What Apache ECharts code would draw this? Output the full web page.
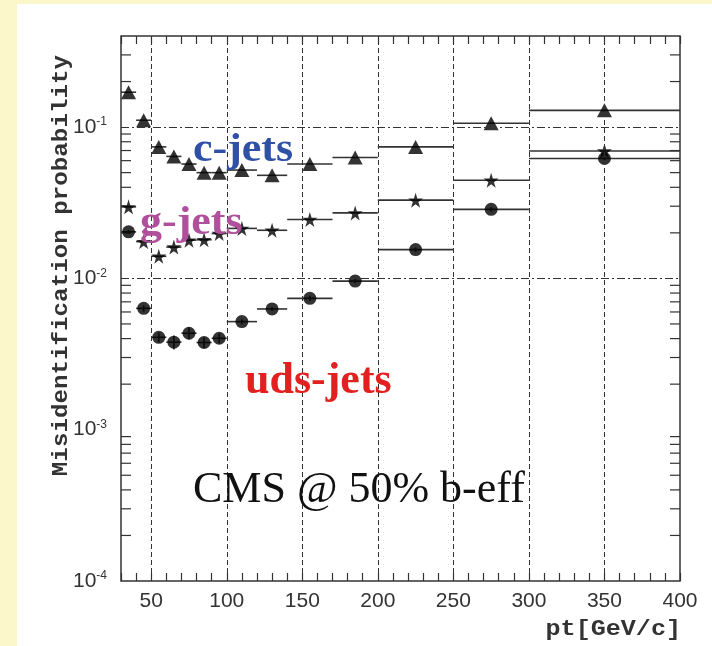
<!DOCTYPE html>
<html>
<head>
<meta charset="utf-8">
<script src="https://cdn.jsdelivr.net/npm/echarts@6/dist/echarts.min.js"></script>
<style>
  html, body { margin: 0; padding: 0; background: #fff; }
  #chart { width: 712px; height: 646px; }
</style>
</head>
<body>
<div id="chart"></div>
<script>
// pt bins (GeV/c)
const ptCenter = [35, 45, 55, 65, 75, 85, 95, 110, 130, 155, 185, 225, 275, 350];
const ptLow    = [30, 40, 50, 60, 70, 80, 90, 100, 120, 140, 170, 200, 250, 300];
const ptHigh   = [40, 50, 60, 70, 80, 90, 100, 120, 140, 170, 200, 250, 300, 400];

// misidentification probability
const cJets   = [0.170, 0.111, 0.074, 0.064, 0.057, 0.050, 0.050, 0.052, 0.048, 0.057, 0.063, 0.074, 0.106, 0.129];
const gJets   = [0.0297, 0.0175, 0.0140, 0.0161, 0.0179, 0.0180, 0.0198, 0.0214, 0.0208, 0.0245, 0.0271, 0.0329, 0.0445, 0.0695];
const udsJets = [0.0203, 0.00634, 0.00408, 0.00379, 0.00434, 0.00377, 0.00402, 0.00518, 0.00628, 0.00738, 0.0096, 0.0155, 0.0286, 0.0620];
const udsErr  = [0.0006, 0.0003, 0.0003, 0.0004, 0.0004, 0.0003, 0.0003, 0.0002, 0.0002, 0.0003, 0.0003, 0.0005, 0.0010, 0.0020];

// axis furniture
const xGridLines = [50, 100, 150, 200, 250, 300, 350];
const yGridLines = [0.1, 0.01, 0.001];
const yDecades = [0.0001, 0.001, 0.01, 0.1];
const yMinorMult = [2, 3, 4, 5, 6, 7, 8, 9];

const X_MIN = 30, X_MAX = 400, Y_MIN = 0.0001, Y_MAX = 0.4;
const INK = '#333';

const yMinorTicks = [];
yDecades.forEach((d) => {
  yMinorMult.forEach((m) => {
    if (d * m < Y_MAX) yMinorTicks.push(d * m);
  });
});

const starPath = 'path://M50,0 L61,35 L98,35 L68,57 L79,91 L50,70 L21,91 L32,57 L2,35 L39,35 Z';

function rows(values, err) {
  return ptCenter.map((x, i) => {
    const e = err ? err[i] : 0;
    return [x, values[i], ptLow[i], ptHigh[i], values[i] - e, values[i] + e];
  });
}

function renderBars(params, api) {
  const y = api.value(1);
  const p0 = api.coord([api.value(2), y]);
  const p1 = api.coord([api.value(3), y]);
  const style = { stroke: INK, lineWidth: 1.6 };
  const children = [
    { type: 'line', shape: { x1: p0[0], y1: p0[1], x2: p1[0], y2: p1[1] }, style },
  ];
  if (api.value(5) > api.value(4)) {
    const q0 = api.coord([api.value(0), api.value(4)]);
    const q1 = api.coord([api.value(0), api.value(5)]);
    children.push({ type: 'line', shape: { x1: q0[0], y1: q0[1], x2: q1[0], y2: q1[1] }, style });
  }
  return { type: 'group', children };
}

function renderYTicks(params, api) {
  const v = api.value(1);
  const l = api.coord([X_MIN, v]);
  const r = api.coord([X_MAX, v]);
  const style = { stroke: INK, lineWidth: 1.2 };
  return {
    type: 'group',
    children: [
      { type: 'line', shape: { x1: l[0], y1: l[1], x2: l[0] + 10, y2: l[1] }, style },
      { type: 'line', shape: { x1: r[0] - 10, y1: r[1], x2: r[0], y2: r[1] }, style },
    ],
  };
}

const chart = echarts.init(document.getElementById('chart'));

const xAxisBase = {
  type: 'value',
  min: X_MIN,
  max: X_MAX,
  interval: 10,
  axisLine: { show: false },
  axisTick: { show: true, inside: true, length: 8, lineStyle: { color: INK, width: 1.2 } },
  splitLine: { show: false },
};

const option = {
  backgroundColor: '#ffffff',
  animation: false,
  grid: {
    left: 121,
    right: 32,
    top: 36,
    bottom: 65,
    show: true,
    backgroundColor: '#ffffff',
    borderColor: INK,
    borderWidth: 1.5,
  },
  xAxis: [
    Object.assign({}, xAxisBase, {
      position: 'bottom',
      axisLabel: {
        margin: 10,
        color: INK,
        fontSize: 21,
        fontFamily: 'Liberation Sans',
        formatter: (v) => (v % 50 === 0 ? String(v) : ''),
      },
    }),
    Object.assign({}, xAxisBase, {
      position: 'top',
      axisLabel: { show: false },
    }),
  ],
  yAxis: {
    type: 'log',
    logBase: 10,
    min: Y_MIN,
    max: Y_MAX,
    axisLine: { show: false },
    axisTick: { show: false },
    splitLine: { show: false },
    axisLabel: {
      margin: 14,
      showMaxLabel: false,
      showMinLabel: true,
      formatter: (v) => {
        const e = Math.log10(v);
        const r = Math.round(e);
        if (Math.abs(e - r) > 1e-6) return '';
        return '{b|10}{s|' + r + '}';
      },
      rich: {
        b: { fontSize: 21, lineHeight: 22, color: INK, fontFamily: 'Liberation Sans' },
        s: { fontSize: 12, lineHeight: 12, verticalAlign: 'top', color: INK, fontFamily: 'Liberation Sans' },
      },
    },
  },
  graphic: [
    { type: 'rect', z: -1, silent: true, shape: { x: 0, y: 0, width: 17, height: 646 }, style: { fill: '#fcf6cb' } },
    { type: 'rect', z: -1, silent: true, shape: { x: 0, y: 0, width: 712, height: 4 }, style: { fill: '#fcf6cb' } },
    {
      type: 'text', x: 61, y: 55, rotation: Math.PI / 2, scaleX: 1.1, z: 100,
      style: { text: 'Misidentification probability', font: 'bold 22px "Liberation Mono"', fill: INK, align: 'right', verticalAlign: 'middle' },
    },
    {
      type: 'text', x: 681, y: 629, scaleX: 1.14, z: 100,
      style: { text: 'pt[GeV/c]', font: 'bold 22px "Liberation Mono"', fill: INK, align: 'right', verticalAlign: 'middle' },
    },
    {
      type: 'text', x: 193, y: 151, scaleX: 1.1, z: 100,
      style: { text: 'c-jets', font: 'bold 40px "Liberation Serif"', fill: '#3050a6', align: 'left', verticalAlign: 'middle' },
    },
    {
      type: 'text', x: 140, y: 224, scaleX: 1.1, z: 100,
      style: { text: 'g-jets', font: 'bold 40px "Liberation Serif"', fill: '#b0509c', align: 'left', verticalAlign: 'middle' },
    },
    {
      type: 'text', x: 245, y: 382, z: 100,
      style: { text: 'uds-jets', font: 'bold 44px "Liberation Serif"', fill: '#e0211f', align: 'left', verticalAlign: 'middle' },
    },
    {
      type: 'text', x: 193, y: 490, z: 100,
      style: { text: 'CMS @ 50% b-eff', font: '44px "Liberation Serif"', fill: '#111', align: 'left', verticalAlign: 'middle' },
    },
  ],
  series: [
    {
      name: 'ticks',
      type: 'custom',
      z: 1,
      silent: true,
      data: yMinorTicks.map((v) => [X_MIN, v]),
      renderItem: renderYTicks,
      markLine: {
        silent: true,
        symbol: ['none', 'none'],
        label: { show: false },
        animation: false,
        data: [
          ...xGridLines.map((v) => ({ xAxis: v, lineStyle: { color: INK, width: 1, type: [5, 3] } })),
          ...yGridLines.map((v) => ({ yAxis: v, lineStyle: { color: INK, width: 1, type: [8, 3, 2, 3] } })),
        ],
      },
    },
    { name: 'c-jets bins', type: 'custom', z: 3, data: rows(cJets), encode: { x: 0, y: 1 }, renderItem: renderBars },
    { name: 'g-jets bins', type: 'custom', z: 3, data: rows(gJets), encode: { x: 0, y: 1 }, renderItem: renderBars },
    { name: 'uds-jets bins', type: 'custom', z: 3, data: rows(udsJets, udsErr), encode: { x: 0, y: 1 }, renderItem: renderBars },
    {
      name: 'c-jets', type: 'scatter', z: 4, symbol: 'triangle', symbolSize: [15, 14],
      itemStyle: { color: '#000' }, data: ptCenter.map((x, i) => [x, cJets[i]]),
    },
    {
      name: 'g-jets', type: 'scatter', z: 4, symbol: starPath, symbolSize: 15,
      itemStyle: { color: '#000' }, data: ptCenter.map((x, i) => [x, gJets[i]]),
    },
    {
      name: 'uds-jets', type: 'scatter', z: 4, symbol: 'circle', symbolSize: 13,
      itemStyle: { color: '#000' }, data: ptCenter.map((x, i) => [x, udsJets[i]]),
    },
  ],
};

chart.setOption(option);
</script>
</body>
</html>
